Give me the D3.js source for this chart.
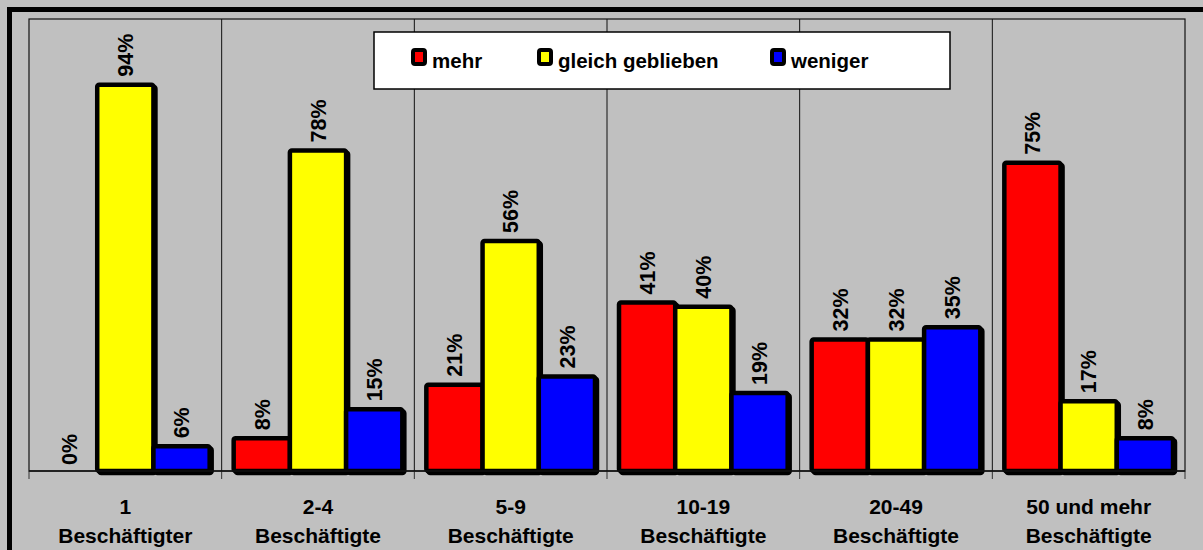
<html>
<head>
<meta charset="utf-8">
<style>
    body { margin: 0; background: #c0c0c0; }
    svg { display: block; font-family: "Liberation Sans", Arial, Helvetica, sans-serif; font-weight: bold; }
</style>
<script src="https://cdn.jsdelivr.net/npm/d3@7"></script>
</head>
<body>
<svg id="chart"></svg>
<script>
// data
let categories = ["1", "2-4", "5-9", "10-19", "20-49", "50 und mehr"]
let categorySub = ["Beschäftigter", "Beschäftigte", "Beschäftigte", "Beschäftigte", "Beschäftigte", "Beschäftigte"]
let seriesNames = ["mehr", "gleich geblieben", "weniger"]
let seriesColors = ["#ff0000", "#ffff00", "#0000ff"]
let mehr = [0, 8, 21, 41, 32, 75]
let gleich = [94, 78, 56, 40, 32, 17]
let weniger = [6, 15, 23, 19, 35, 8]

let width = 1203, height = 550
let plot = { left: 29, top: 19, right: 1185, bottom: 471 }

let svg = d3.select("#chart").attr("width", width).attr("height", height)

svg.append("rect").attr("width", width).attr("height", height).attr("fill", "#c0c0c0")

let x = d3.scaleBand().domain(categories).range([plot.left, plot.right]).padding(0)
let xs = d3.scaleBand().domain(seriesNames).range([12, x.bandwidth() - 12]).padding(0)
let y = d3.scaleLinear().domain([0, 110]).range([plot.bottom, plot.top])

// plot frame
svg.append("rect")
    .attr("x", plot.left).attr("y", plot.top)
    .attr("width", plot.right - plot.left).attr("height", plot.bottom - plot.top)
    .attr("fill", "#c0c0c0").attr("stroke", "#111").attr("stroke-width", 1.2)

// group separators + ticks under baseline
let bounds = categories.map(c => x(c)).concat([plot.right])
svg.selectAll(".sep").data(bounds.slice(1, -1)).enter().append("line")
    .attr("x1", d => d).attr("x2", d => d)
    .attr("y1", plot.top).attr("y2", plot.bottom)
    .attr("stroke", "#111").attr("stroke-width", 1)
svg.selectAll(".tick").data(bounds).enter().append("line")
    .attr("x1", d => d).attr("x2", d => d)
    .attr("y1", plot.bottom).attr("y2", plot.bottom + 8)
    .attr("stroke", "#333").attr("stroke-width", 1)

let rows = []
categories.forEach((c, i) => {
    [mehr, gleich, weniger].forEach((s, j) => {
        rows.push({ cat: c, series: seriesNames[j], color: seriesColors[j], value: s[i] })
    })
})

let bars = svg.append("g")
let barRows = rows.filter(d => d.value > 0)
// shadow
bars.selectAll(".shadow").data(barRows).enter().append("rect")
    .attr("x", d => x(d.cat) + xs(d.series) + 2)
    .attr("y", d => y(d.value) + 2)
    .attr("width", xs.bandwidth())
    .attr("height", d => plot.bottom - y(d.value))
    .attr("fill", "#000").attr("stroke", "#000").attr("stroke-width", 4.5).attr("rx", 2)
bars.selectAll(".bar").data(barRows).enter().append("rect")
    .attr("x", d => x(d.cat) + xs(d.series))
    .attr("y", d => y(d.value))
    .attr("width", xs.bandwidth())
    .attr("height", d => plot.bottom - y(d.value))
    .attr("fill", d => d.color).attr("stroke", "#000").attr("stroke-width", 4.5).attr("rx", 2)

// baseline
svg.append("line").attr("x1", plot.left).attr("x2", plot.right)
    .attr("y1", plot.bottom).attr("y2", plot.bottom)
    .attr("stroke", "#111").attr("stroke-width", 1.5)

// value labels
svg.selectAll(".val").data(rows).enter().append("text")
    .attr("transform", d => {
        let cx = x(d.cat) + xs(d.series) + xs.bandwidth() / 2
        let ty = y(d.value) - (d.value > 0 ? 8 : 6)
        return `translate(${cx},${ty}) rotate(-90)`
    })
    .attr("dy", "0.36em")
    .attr("font-size", 21.5)
    .attr("fill", "#000")
    .text(d => d.value + "%")

// category labels
let catG = svg.selectAll(".cat").data(categories).enter().append("text")
    .attr("text-anchor", "middle").attr("font-size", 21).attr("fill", "#000")
catG.append("tspan").attr("x", d => x(d) + x.bandwidth() / 2).attr("y", 514).text(d => d)
catG.append("tspan").attr("x", d => x(d) + x.bandwidth() / 2).attr("y", 543)
    .text((d, i) => categorySub[i])

// legend
let legend = svg.append("g")
legend.append("rect").attr("x", 374).attr("y", 32).attr("width", 576).attr("height", 57)
    .attr("fill", "#fff").attr("stroke", "#000").attr("stroke-width", 1.5)
let legendX = [413, 539, 772]
seriesNames.forEach((s, i) => {
    legend.append("rect").attr("x", legendX[i]).attr("y", 50).attr("width", 12).attr("height", 14)
        .attr("rx", 2).attr("fill", seriesColors[i]).attr("stroke", "#000").attr("stroke-width", 4)
    legend.append("text").attr("x", legendX[i] + 19).attr("y", 68)
        .attr("font-size", 20.5).attr("fill", "#000").text(s)
})

// outer border
svg.append("rect").attr("x", 9.5).attr("y", 9.5).attr("width", width + 20).attr("height", height + 20)
    .attr("fill", "none").attr("stroke", "#000").attr("stroke-width", 5)
</script>
</body>
</html>
